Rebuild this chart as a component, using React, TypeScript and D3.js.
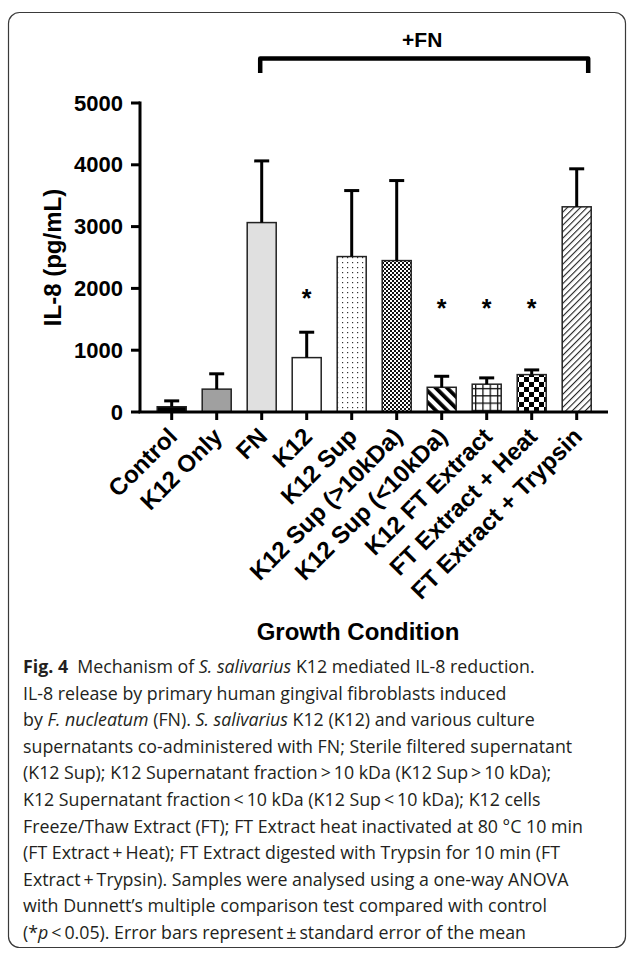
import * as d3 from "d3";

// IL-8 release per growth condition (pg/mL)
const conditions = [
  "Control",
  "K12 Only",
  "FN",
  "K12",
  "K12 Sup",
  "K12 Sup (>10kDa)",
  "K12 Sup (<10kDa)",
  "K12 FT Extract",
  "FT Extract + Heat",
  "FT Extract + Trypsin",
];
const meanIL8 = [85, 370, 3065, 880, 2515, 2450, 400, 450, 605, 3320];
const semIL8 = [95, 248, 998, 411, 1068, 1295, 178, 102, 76, 615];
// where the significance stars sit, in pg/mL (null = no star)
const starLevel: (number | null)[] = [null, null, null, 1930, null, null, 1770, 1770, 1770, null];
const yTicks = [0, 1000, 2000, 3000, 4000, 5000];
const fnGroup = ["FN", "FT Extract + Trypsin"];

const barFills = [
  "#000",
  "#a0a0a0",
  "#e0e0e0",
  "#fff",
  "url(#dots)",
  "url(#fineCheck)",
  "url(#thickDiag)",
  "url(#grid)",
  "url(#bigCheck)",
  "url(#thinDiag)",
];

type Seg = { t: string; b?: boolean; i?: boolean };
const caption: Seg[][] = [
  [{ t: "Fig. 4", b: true }, { t: "  Mechanism of " }, { t: "S. salivarius", i: true }, { t: " K12 mediated IL-8 reduction." }],
  [{ t: "IL-8 release by primary human gingival fibroblasts induced" }],
  [{ t: "by " }, { t: "F. nucleatum", i: true }, { t: " (FN). " }, { t: "S. salivarius", i: true }, { t: " K12 (K12) and various culture" }],
  [{ t: "supernatants co-administered with FN; Sterile filtered supernatant" }],
  [{ t: "(K12 Sup); K12 Supernatant fraction\u2009>\u200910 kDa (K12 Sup\u2009>\u200910 kDa);" }],
  [{ t: "K12 Supernatant fraction\u2009<\u200910 kDa (K12 Sup\u2009<\u200910 kDa); K12 cells" }],
  [{ t: "Freeze/Thaw Extract (FT); FT Extract heat inactivated at 80 \u00b0C 10 min" }],
  [{ t: "(FT Extract\u2009+\u2009Heat); FT Extract digested with Trypsin for 10 min (FT" }],
  [{ t: "Extract\u2009+\u2009Trypsin). Samples were analysed using a one-way ANOVA" }],
  [{ t: "with Dunnett\u2019s multiple comparison test compared with control" }],
  [{ t: "(*" }, { t: "p", i: true }, { t: "\u2009<\u20090.05). Error bars represent\u2009\u00b1\u2009standard error of the mean" }],
];

const W = 629;
const H = 953;
const bold = "'Liberation Sans', Arial, sans-serif";

export default function App() {
  const x = d3.scalePoint<string>().domain(conditions).range([171.7, 576.7]);
  const y = d3.scaleLinear().domain([0, 5000]).range([412, 103]);
  const barW = 29;
  const axisLeft = 140;
  const axisRight = 608;

  const fnLeft = x(fnGroup[0])! - 1.5;
  const fnRight = x(fnGroup[1])! + 11.5;

  return (
    <svg
      width={W}
      height={H}
      style={{ position: "absolute", left: 0, top: 0, background: "#fff" }}
    >
      <defs>
        <pattern id="dots" width={5} height={5} patternUnits="userSpaceOnUse">
          <rect width={5} height={5} fill="#fff" />
          <rect x={2} y={2} width={1.2} height={1.2} fill="#333" />
        </pattern>
        <pattern id="fineCheck" width={4} height={4} patternUnits="userSpaceOnUse">
          <rect width={4} height={4} fill="#fff" />
          <rect width={2} height={2} fill="#111" />
          <rect x={2} y={2} width={2} height={2} fill="#111" />
        </pattern>
        <pattern id="thickDiag" width={8} height={8} patternUnits="userSpaceOnUse" patternTransform="rotate(-45)">
          <rect width={8} height={8} fill="#fff" />
          <rect width={3.8} height={8} fill="#000" />
        </pattern>
        <pattern id="thinDiag" width={4.6} height={4.6} patternUnits="userSpaceOnUse" patternTransform="rotate(45)">
          <rect width={4.6} height={4.6} fill="#fff" />
          <rect width={1.1} height={4.6} fill="#222" />
        </pattern>
        <pattern id="grid" width={7.3} height={7.3} patternUnits="userSpaceOnUse" x={0.5} y={1}>
          <rect width={7.3} height={7.3} fill="#fff" />
          <rect width={1.3} height={7.3} fill="#111" />
          <rect width={7.3} height={1.3} fill="#111" />
        </pattern>
        <pattern id="bigCheck" width={10} height={10} patternUnits="userSpaceOnUse" x={-1} y={2}>
          <rect width={10} height={10} fill="#fff" />
          <rect width={5} height={5} fill="#000" />
          <rect x={5} y={5} width={5} height={5} fill="#000" />
        </pattern>
      </defs>

      <rect x={8.5} y={12.5} width={617} height={935} rx={11} fill="none" stroke="#3a3a3a" strokeWidth={1.2} />

      {/* +FN bracket */}
      <path
        d={`M${fnLeft},73 V58.5 H${fnRight} V73`}
        fill="none"
        stroke="#000"
        strokeWidth={4.5}
        strokeLinejoin="round"
      />
      <text x={(fnLeft + fnRight) / 2 - 2} y={47} textAnchor="middle" fontFamily={bold} fontWeight="bold" fontSize={21}>
        +FN
      </text>

      {/* bars */}
      {conditions.map((c, i) => (
        <rect
          key={c}
          x={x(c)! - barW / 2}
          y={y(meanIL8[i])}
          width={barW}
          height={y(0) - y(meanIL8[i])}
          fill={barFills[i]}
          stroke="#222"
          strokeWidth={1.5}
        />
      ))}

      {/* error bars (upper only) */}
      {conditions.map((c, i) => {
        const cx = x(c)!;
        const top = y(meanIL8[i] + semIL8[i]);
        return (
          <g key={c} stroke="#000" strokeWidth={3}>
            <line x1={cx} x2={cx} y1={y(meanIL8[i])} y2={top} />
            <line x1={cx - 7.5} x2={cx + 7.5} y1={top} y2={top} />
          </g>
        );
      })}

      {/* significance stars */}
      {conditions.map((c, i) =>
        starLevel[i] == null ? null : (
          <text key={c} x={x(c)!} y={y(starLevel[i]!) + 14} textAnchor="middle" fontFamily={bold} fontWeight="bold" fontSize={25}>
            *
          </text>
        )
      )}

      {/* axes */}
      <g stroke="#000" strokeWidth={3}>
        <line x1={axisLeft} x2={axisLeft} y1={y(5000) - 1.5} y2={y(0)} />
        {yTicks.map((t) => (
          <line key={t} x1={axisLeft - 9} x2={axisLeft} y1={y(t)} y2={y(t)} />
        ))}
        <line x1={axisLeft - 1.5} x2={axisRight} y1={y(0)} y2={y(0)} />
        {conditions.map((c) => (
          <line key={c} x1={x(c)!} x2={x(c)!} y1={y(0)} y2={y(0) + 8} />
        ))}
      </g>
      {yTicks.map((t) => (
        <text key={t} x={123} y={y(t) + 7.5} textAnchor="end" fontFamily={bold} fontWeight="bold" fontSize={22}>
          {t}
        </text>
      ))}
      <text
        transform={`translate(61,${(y(0) + y(5000)) / 2}) rotate(-90)`}
        textAnchor="middle"
        fontFamily={bold}
        fontWeight="bold"
        fontSize={24}
      >
        IL-8 (pg/mL)
      </text>

      {/* x labels */}
      {conditions.map((c) => (
        <text
          key={c}
          transform={`translate(${x(c)! + 7},438) rotate(-45)`}
          textAnchor="end"
          fontFamily={bold}
          fontWeight="bold"
          fontSize={24}
        >
          {c}
        </text>
      ))}
      <text x={358} y={640} textAnchor="middle" fontFamily={bold} fontWeight="bold" fontSize={24}>
        Growth Condition
      </text>

      {/* caption */}
      {caption.map((line, li) => (
        <text
          key={li}
          x={23}
          y={673 + li * 26.6}
          fontFamily="'Open Sans', Lato, sans-serif"
          fontSize={17.8}
          fill="#231f20"
          style={{ whiteSpace: "pre" }}
        >
          {line.map((s, si) => (
            <tspan key={si} fontWeight={s.b ? "bold" : "normal"} fontStyle={s.i ? "italic" : "normal"}>
              {s.t}
            </tspan>
          ))}
        </text>
      ))}
    </svg>
  );
}
